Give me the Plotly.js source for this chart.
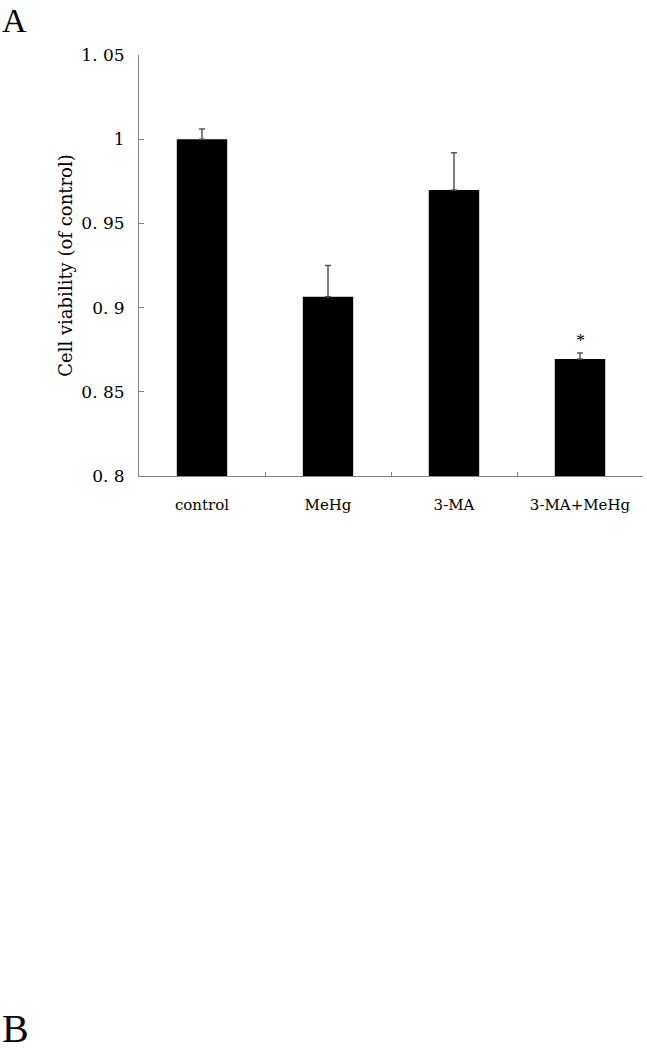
<!DOCTYPE html>
<html>
<head>
<meta charset="utf-8">
<script src="https://cdn.plot.ly/plotly-3.0.1.min.js"></script>
<style>
  body { margin: 0; background: #fff; }
  #chart { width: 647px; height: 1050px; }
</style>
</head>
<body>
<div id="chart"></div>
<script>
// Cell viability, panel A
const groups = ['control', 'MeHg', '3-MA', '3-MA+MeHg'];
const viability = [1.0, 0.9065, 0.9698, 0.8695];
const errPlus = [0.006, 0.0185, 0.0222, 0.0035];
const yTicks = [0.8, 0.85, 0.9, 0.95, 1, 1.05];
const yTickText = ['0. 8', '0. 85', '0. 9', '0. 95', '1', '1. 05'];

const serif = '"Liberation Serif", "DejaVu Serif", serif';
const wideSerif = '"DejaVu Serif", "Liberation Serif", serif';

const trace = {
    x: groups,
    y: viability,
    type: 'bar',
    width: 0.4,
    marker: { color: '#000000' },
    error_y: {
        type: 'data',
        symmetric: false,
        array: errPlus,
        arrayminus: groups.map(() => 0),
        color: '#555555',
        thickness: 1.5,
        width: 3
    },
    hoverinfo: 'none'
};

const layout = {
    width: 647,
    height: 1050,
    margin: { l: 139, r: 4, t: 55, b: 574 },
    paper_bgcolor: '#ffffff',
    plot_bgcolor: '#ffffff',
    showlegend: false,
    font: { family: wideSerif, color: '#000000', size: 15 },
    xaxis: {
        type: 'category',
        range: [-0.5, 3.5],
        showline: true,
        linecolor: '#808080',
        linewidth: 1,
        ticks: 'inside',
        tickson: 'boundaries',
        ticklen: 4,
        tickcolor: '#808080',
        ticklabelstandoff: 15,
        tickfont: { family: wideSerif, size: 15 },
        showgrid: false,
        zeroline: false
    },
    yaxis: {
        range: [0.8, 1.05],
        tickvals: yTicks,
        ticktext: yTickText,
        showline: true,
        linecolor: '#808080',
        linewidth: 1,
        ticks: 'inside',
        ticklen: 5,
        tickcolor: '#808080',
        ticklabelstandoff: 10,
        tickfont: { family: wideSerif, size: 17 },
        showgrid: false,
        zeroline: false,
        title: {
            text: 'Cell viability (of control)',
            font: { family: wideSerif, size: 18 },
            standoff: 4
        }
    },
    annotations: [
        {
            x: groups[3], y: viability[3] + errPlus[3],
            xref: 'x', yref: 'y',
            text: '*', showarrow: false,
            yanchor: 'bottom', yshift: 0,
            font: { family: serif, size: 18 }
        },
        {
            x: -139 / 504, y: 1 + 55 / 421,
            xref: 'paper', yref: 'paper',
            xanchor: 'left', yanchor: 'top',
            text: 'A', showarrow: false,
            font: { family: serif, size: 34 }
        },
        {
            x: -139 / 504, y: (476 - 1050) / 421,
            xref: 'paper', yref: 'paper',
            xanchor: 'left', yanchor: 'bottom',
            yshift: -3,
            text: 'B', showarrow: false,
            font: { family: serif, size: 40 }
        }
    ]
};

Plotly.newPlot('chart', [trace], layout, { displayModeBar: false, staticPlot: true });
</script>
</body>
</html>
